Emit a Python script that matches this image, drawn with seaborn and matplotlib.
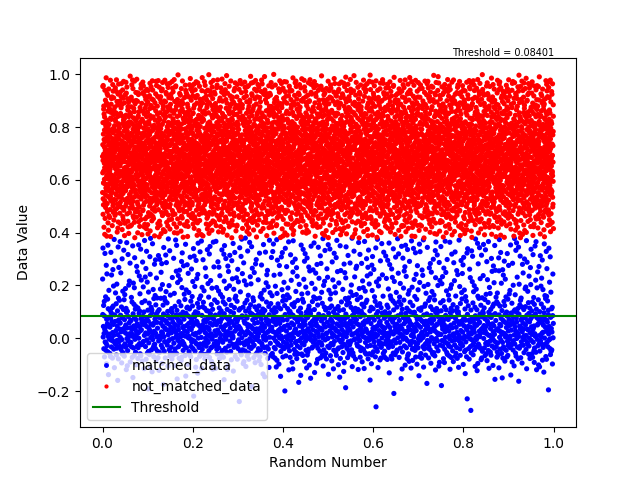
import numpy as np
import pandas as pd
import matplotlib
matplotlib.use("Agg")
import matplotlib.pyplot as plt
import seaborn as sns
from matplotlib.lines import Line2D

# Values: y-bands and approximate point counts per band
threshold = 0.08401

matched_band_lo = [-0.28, -0.24, -0.20, -0.16, -0.12, -0.08, -0.04, 0.00, 0.04, 0.08, 0.12, 0.16, 0.20, 0.24, 0.28, 0.32, 0.36]
matched_band_hi = [-0.24, -0.20, -0.16, -0.12, -0.08, -0.04, 0.00, 0.04, 0.08, 0.12, 0.16, 0.20, 0.24, 0.28, 0.32, 0.36, 0.38]
matched_counts  = [2, 4, 10, 30, 90, 220, 320, 360, 340, 240, 150, 100, 85, 80, 80, 80, 40]

not_matched_band_lo = [0.38, 0.42, 0.46, 0.50, 0.54, 0.58, 0.62, 0.66, 0.70, 0.74, 0.78, 0.82, 0.86, 0.90, 0.94, 0.98]
not_matched_band_hi = [0.42, 0.46, 0.50, 0.54, 0.58, 0.62, 0.66, 0.70, 0.74, 0.78, 0.82, 0.86, 0.90, 0.94, 0.98, 1.00]
not_matched_counts  = [140, 220, 290, 370, 450, 520, 560, 560, 530, 480, 400, 330, 290, 260, 230, 30]


def radical_inverse(i, base):
    out = np.zeros(len(i))
    f = 1.0 / base
    i = i.copy()
    while np.any(i > 0):
        out += f * (i % base)
        i //= base
        f /= base
    return out


def spread(lo_list, hi_list, counts, skip, bx, by):
    # deterministic even spread (Halton), y mapped through the band densities
    n = int(sum(counts))
    idx = np.arange(n) + skip
    u = radical_inverse(idx, bx)
    v = radical_inverse(idx, by)
    edges = np.array(list(lo_list) + [hi_list[-1]])
    cdf = np.concatenate([[0.0], np.cumsum(counts)]) / n
    return u, np.interp(v, cdf, edges)


mx, my = spread(matched_band_lo, matched_band_hi, matched_counts, 37, 2, 3)
nx, ny = spread(not_matched_band_lo, not_matched_band_hi, not_matched_counts, 5011, 3, 2)

df = pd.DataFrame({
    "x": np.concatenate([mx, nx]),
    "y": np.concatenate([my, ny]),
    "group": ["matched_data"] * len(mx) + ["not_matched_data"] * len(nx),
})

fig, ax = plt.subplots(figsize=(6.4, 4.8), dpi=100)
sns.scatterplot(data=df, x="x", y="y", hue="group",
                palette={"matched_data": "blue", "not_matched_data": "red"},
                s=14, linewidth=0, ax=ax, legend=False)
ax.axhline(threshold, color="green")

ax.set_xlabel("Random Number")
ax.set_ylabel("Data Value")
ax.text(0.955, 1.0, f"Threshold = {threshold}", transform=ax.transAxes,
        ha="right", va="bottom", fontsize=7)

handles = [
    Line2D([], [], marker="o", linestyle="none", color="blue", markersize=2.5),
    Line2D([], [], marker="o", linestyle="none", color="red", markersize=2),
    Line2D([], [], color="green"),
]
ax.legend(handles, ["matched_data", "not_matched_data", "Threshold"], loc="lower left")

fig.savefig("out.png", dpi=100)
